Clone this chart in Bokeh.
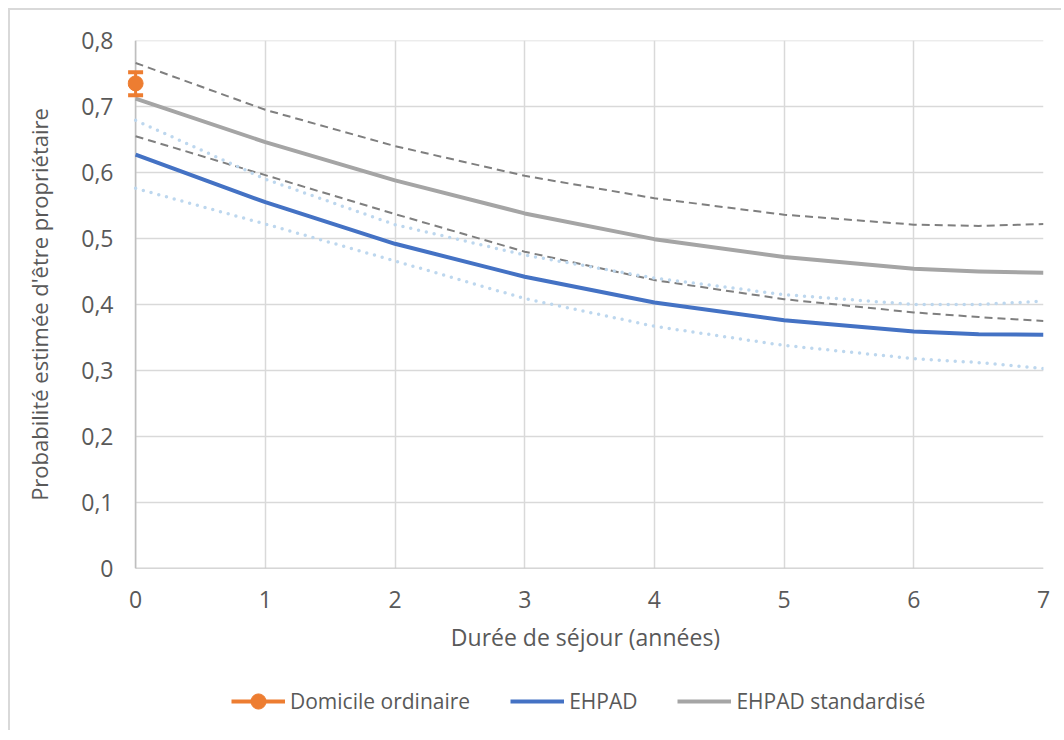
from bokeh.plotting import figure
from bokeh.layouts import column
from bokeh.models import (Range1d, FixedTicker, CustomJSTickFormatter, Legend, LegendItem)
from bokeh.embed import file_html
from bokeh.resources import INLINE

# ---- data ----
years = [0, 1, 2, 3, 4, 5, 6, 6.5, 7]
ehpad = [0.627, 0.555, 0.492, 0.442, 0.403, 0.376, 0.359, 0.355, 0.354]
ehpad_low = [0.576, 0.522, 0.466, 0.409, 0.367, 0.338, 0.318, 0.312, 0.303]
ehpad_high = [0.679, 0.590, 0.521, 0.475, 0.440, 0.415, 0.400, 0.400, 0.405]
std = [0.712, 0.646, 0.588, 0.538, 0.499, 0.472, 0.454, 0.450, 0.448]
std_low = [0.655, 0.596, 0.537, 0.480, 0.437, 0.408, 0.388, 0.381, 0.375]
std_high = [0.766, 0.695, 0.640, 0.595, 0.561, 0.536, 0.521, 0.519, 0.522]
dom_x = [0]
dom_y = [0.735]
dom_low = [0.717]
dom_high = [0.752]
xticks = [0, 1, 2, 3, 4, 5, 6, 7]
yticks = [0, 0.1, 0.2, 0.3, 0.4, 0.5, 0.6, 0.7, 0.8]
labels = ["Domicile ordinaire", "EHPAD", "EHPAD standardisé"]
x_title = "Durée de séjour (années)"
y_title = "Probabilité estimée d'être propriétaire"

FONT = "Open Sans"
TXT = "#595959"
GRID = "#d9d9d9"
AXIS = "#bfbfbf"
ORANGE = "#ed7d31"
BLUE = "#4472c4"
GREY = "#a5a5a5"

p = figure(output_backend="svg", toolbar_location=None,
           frame_width=916, frame_height=528,
           min_border_left=117, min_border_right=18,
           min_border_top=30, min_border_bottom=100,
           x_range=Range1d(-0.0625, 7), y_range=Range1d(0, 0.8))
p.outline_line_color = None
p.background_fill_color = "white"
p.border_fill_color = "white"

# grids
p.xgrid.ticker = FixedTicker(ticks=xticks)
p.xgrid.grid_line_color = GRID
p.xgrid.grid_line_width = 1.5
p.ygrid.grid_line_color = None
p.segment(x0=[xticks[0]] * len(yticks), x1=[xticks[-1]] * len(yticks),
          y0=yticks, y1=yticks, line_color=GRID, line_width=1.5)
# axis lines
p.segment(x0=[0], x1=[7], y0=[0], y1=[0], line_color=AXIS, line_width=1.5)
p.segment(x0=[0], x1=[0], y0=[0], y1=[0.8], line_color=AXIS, line_width=1.5)

# axes
for ax in (p.xaxis[0], p.yaxis[0]):
    ax.axis_line_color = None
    ax.major_tick_line_color = None
    ax.minor_tick_line_color = None
    ax.major_label_text_font = FONT
    ax.major_label_text_font_size = "23px"
    ax.major_label_text_color = TXT
    ax.axis_label_text_font = FONT
    ax.axis_label_text_font_style = "normal"
    ax.axis_label_text_color = TXT
p.xaxis.axis_label_text_font_size = "23px"
p.yaxis.axis_label_text_font_size = "22px"

p.xaxis.ticker = FixedTicker(ticks=xticks)
p.yaxis.ticker = FixedTicker(ticks=yticks)
p.yaxis.formatter = CustomJSTickFormatter(
    code="return tick == 0 ? '0' : tick.toFixed(1).replace('.', ',');")
p.xaxis.major_label_standoff = 16
p.yaxis.major_label_standoff = 8
p.xaxis.axis_label = x_title
p.yaxis.axis_label = y_title
p.xaxis.axis_label_standoff = 10
p.yaxis.axis_label_standoff = 24

# confidence bands
p.line(years, std_high, line_color="#7f7f7f", line_width=2, line_dash="8 5")
p.line(years, std_low, line_color="#7f7f7f", line_width=2, line_dash="8 5")
p.line(years, ehpad_high, line_color="#bdd7ee", line_width=3.5, line_dash="0 8", line_cap="round")
p.line(years, ehpad_low, line_color="#bdd7ee", line_width=3.5, line_dash="0 8", line_cap="round")

# main lines
p.line(years, std, line_color=GREY, line_width=4, line_join="round")
p.line(years, ehpad, line_color=BLUE, line_width=4, line_join="round")

# domicile ordinaire with error bar
p.segment(x0=dom_x, x1=dom_x, y0=dom_low, y1=dom_high, line_color=ORANGE, line_width=3)
p.scatter(dom_x, dom_low, marker="dash", size=15, line_color=ORANGE, line_width=4)
p.scatter(dom_x, dom_high, marker="dash", size=15, line_color=ORANGE, line_width=4)
p.scatter(dom_x, dom_y, marker="circle", size=15, fill_color=ORANGE, line_color=ORANGE)

# legend strip (its renderers use the same data, kept out of view by the ranges)
lf = figure(output_backend="svg", toolbar_location=None, width=1051, height=62,
            min_border=0, x_axis_location=None, y_axis_location=None,
            x_range=Range1d(100, 101), y_range=Range1d(100, 101))
lf.outline_line_color = None
lf.grid.grid_line_color = None
l_dom_line = lf.segment(x0=dom_x, x1=dom_x, y0=dom_low, y1=dom_high, line_color=ORANGE, line_width=4)
l_dom_pt = lf.scatter(dom_x, dom_y, marker="circle", size=15, fill_color=ORANGE, line_color=ORANGE)
l_eh = lf.line(years, ehpad, line_color=BLUE, line_width=4)
l_std = lf.line(years, std, line_color=GREY, line_width=4)
legend = Legend(items=[LegendItem(label=labels[0], renderers=[l_dom_line, l_dom_pt]),
                       LegendItem(label=labels[1], renderers=[l_eh]),
                       LegendItem(label=labels[2], renderers=[l_std])],
                orientation="horizontal", location=(104, 10),
                glyph_width=54, glyph_height=38, label_standoff=5, spacing=40,
                padding=0, margin=0, border_line_color=None, background_fill_alpha=0,
                label_text_font=FONT, label_text_font_size="21px", label_text_color=TXT)
lf.add_layout(legend, "center")

layout = column(p, lf, spacing=0,
                styles={"border-top": "2px solid #d9d9d9", "border-left": "2px solid #d9d9d9",
                        "margin-left": "8px", "margin-top": "8px"})

open("out.html", "w").write(file_html(layout, INLINE))
